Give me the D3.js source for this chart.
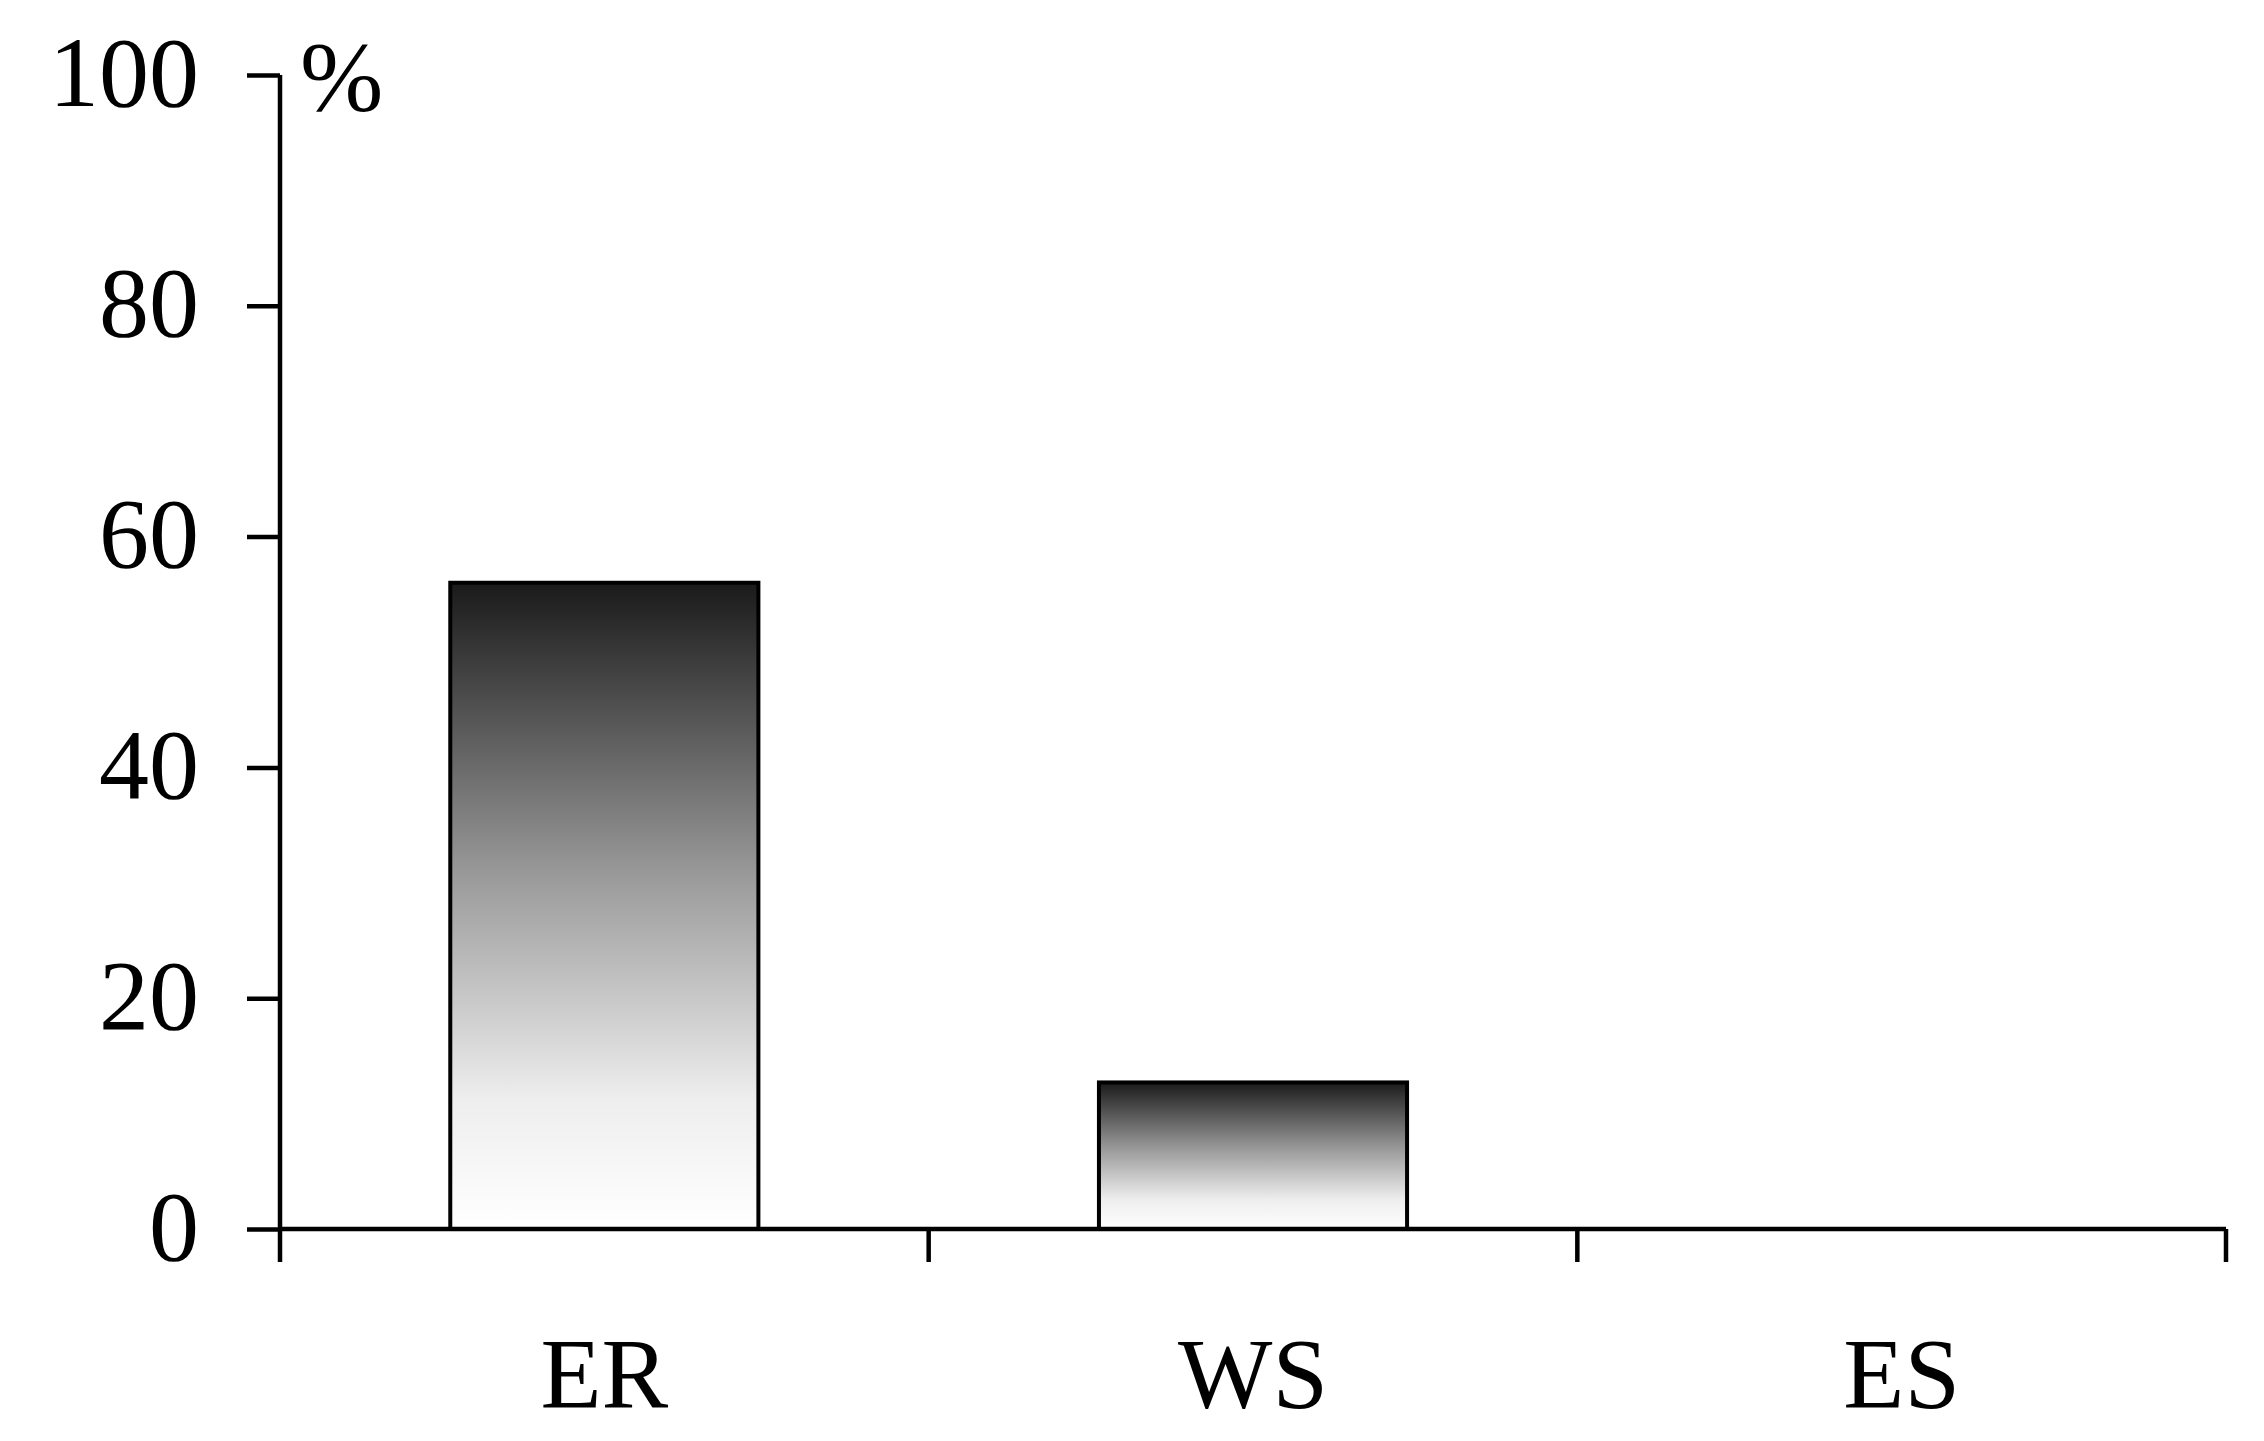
<!DOCTYPE html>
<html><head><meta charset="utf-8">
<script src="https://cdn.jsdelivr.net/npm/d3@7"></script>
<style>body{margin:0;background:#fff} text{font-family:'Liberation Serif',serif}</style></head>
<body><svg id="chart" width="2264" height="1441"></svg>
<script>
const categories = ['ER', 'WS', 'ES'];
const values = [56, 12.7, 0];
const yTicks = [0, 20, 40, 60, 80, 100];

const svg = d3.select('#chart');
const x0 = 280, x1 = 2226, yBottom = 1229, yTop = 75;
const fs = '100px';

let x = d3.scaleBand().domain(categories).range([x0, x1]).paddingInner(0.525).paddingOuter(0.2625);
let y = d3.scaleLinear().domain([0, 100]).range([yBottom, yTop]);

// gradient: dark at top, white at bottom
let defs = svg.append('defs');
let grad = defs.append('linearGradient').attr('id', 'barGrad')
    .attr('x1', 0).attr('y1', 0).attr('x2', 0).attr('y2', 1);
grad.append('stop').attr('offset', '0%').attr('stop-color', '#1a1a1a');
grad.append('stop').attr('offset', '45%').attr('stop-color', '#999');
grad.append('stop').attr('offset', '80%').attr('stop-color', '#eee');
grad.append('stop').attr('offset', '100%').attr('stop-color', '#fff');

svg.selectAll('rect.bar').data(categories.map((c, i) => ({c, v: values[i]})).filter(d => d.v > 0))
    .enter().append('rect').attr('class', 'bar')
    .attr('x', d => x(d.c)).attr('width', x.bandwidth())
    .attr('y', d => y(d.v)).attr('height', d => y(0) - y(d.v))
    .attr('fill', 'url(#barGrad)').attr('stroke', '#000').attr('stroke-width', 4);

// y axis
let yAxis = svg.append('g').attr('transform', `translate(${x0},0)`)
    .call(d3.axisLeft(y).tickValues(yTicks).tickSize(33).tickPadding(48));
yAxis.select('.domain').attr('d', `M0,${yTop}V${yBottom}`);
yAxis.selectAll('line, path').attr('stroke', '#000').attr('stroke-width', 4.5);
yAxis.selectAll('text').attr('font-family', null).style('font-size', fs).attr('fill', '#000').attr('dy', '0.3em');

// x axis with ticks between categories
let xg = svg.append('g');
xg.append('line').attr('x1', x0).attr('x2', x1).attr('y1', yBottom).attr('y2', yBottom)
    .attr('stroke', '#000').attr('stroke-width', 4.5);
xg.selectAll('line.tk').data(d3.range(categories.length + 1)).enter().append('line')
    .attr('x1', i => x0 + i * (x1 - x0) / categories.length)
    .attr('x2', i => x0 + i * (x1 - x0) / categories.length)
    .attr('y1', yBottom).attr('y2', yBottom + 33)
    .attr('stroke', '#000').attr('stroke-width', 4.5);
xg.selectAll('text').data(categories).enter().append('text')
    .attr('x', d => x(d) + x.bandwidth() / 2).attr('y', 1407)
    .attr('text-anchor', 'middle').style('font-size', fs).text(d => d);

svg.append('text').attr('x', 300).attr('y', 110).style('font-size', fs).text('%');
</script></body></html>
